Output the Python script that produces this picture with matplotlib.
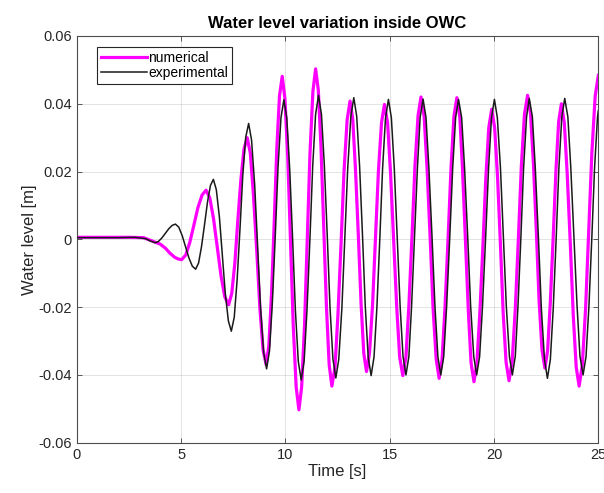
import matplotlib
matplotlib.use('Agg')
import matplotlib.pyplot as plt

plt.rcParams['font.family'] = ['Liberation Sans', 'DejaVu Sans']
plt.rcParams['axes.unicode_minus'] = False

# experimental record (black)
t_exp = [0.0, 2.0, 2.8, 3.3, 3.5, 3.76,
         3.92, 4.08, 4.25, 4.41, 4.57, 4.73,
         4.89, 5.05, 5.22, 5.38, 5.54, 5.70,
         5.84, 5.98, 6.13, 6.27, 6.41, 6.55,
         6.69, 6.84, 6.98, 7.12, 7.27, 7.41,
         7.55, 7.69, 7.83, 7.96, 8.10, 8.24,
         8.38, 8.53, 8.67, 8.81, 8.96, 9.10,
         9.24, 9.38, 9.52, 9.65, 9.79, 9.93,
         10.07, 10.21, 10.35, 10.48, 10.62, 10.76,
         10.90, 11.04, 11.18, 11.31, 11.45, 11.59,
         11.73, 11.87, 12.01, 12.14, 12.28, 12.42,
         12.56, 12.71, 12.85, 12.99, 13.14, 13.28,
         13.42, 13.56, 13.70, 13.83, 13.97, 14.11,
         14.25, 14.39, 14.53, 14.66, 14.80, 14.94,
         15.08, 15.22, 15.36, 15.50, 15.64, 15.78,
         15.92, 16.05, 16.19, 16.33, 16.46, 16.60,
         16.74, 16.88, 17.03, 17.17, 17.31, 17.45,
         17.59, 17.73, 17.88, 18.02, 18.16, 18.30,
         18.45, 18.59, 18.74, 18.88, 19.03, 19.17,
         19.31, 19.45, 19.60, 19.74, 19.88, 20.02,
         20.16, 20.31, 20.45, 20.59, 20.74, 20.88,
         21.02, 21.15, 21.29, 21.42, 21.56, 21.69,
         21.84, 21.98, 22.13, 22.27, 22.42, 22.56,
         22.70, 22.84, 22.98, 23.11, 23.25, 23.39,
         23.54, 23.68, 23.83, 23.98, 24.12, 24.27,
         24.41, 24.55, 24.69, 24.82, 24.96, 25.0]
y_exp = [0.0005, 0.0005, 0.0006, 0.0002, -0.0004, -0.0010,
         -0.0006, 0.0004, 0.0018, 0.0031, 0.0041, 0.0045,
         0.0036, 0.0012, -0.0022, -0.0055, -0.0079, -0.0088,
         -0.0070, -0.0022, 0.0045, 0.0111, 0.0159, 0.0177,
         0.0147, 0.0065, -0.0047, -0.0159, -0.0241, -0.0271,
         -0.0230, -0.0118, 0.0036, 0.0189, 0.0301, 0.0342,
         0.0293, 0.0161, -0.0020, -0.0201, -0.0334, -0.0382,
         -0.0329, -0.0184, 0.0015, 0.0214, 0.0359, 0.0412,
         0.0357, 0.0205, -0.0002, -0.0208, -0.0360, -0.0415,
         -0.0359, -0.0205, 0.0005, 0.0215, 0.0369, 0.0425,
         0.0369, 0.0217, 0.0008, -0.0201, -0.0353, -0.0409,
         -0.0354, -0.0202, 0.0005, 0.0211, 0.0363, 0.0418,
         0.0363, 0.0213, 0.0008, -0.0197, -0.0347, -0.0402,
         -0.0347, -0.0198, 0.0006, 0.0209, 0.0358, 0.0413,
         0.0359, 0.0210, 0.0007, -0.0197, -0.0346, -0.0400,
         -0.0346, -0.0197, 0.0007, 0.0211, 0.0360, 0.0414,
         0.0360, 0.0210, 0.0007, -0.0197, -0.0346, -0.0400,
         -0.0346, -0.0197, 0.0007, 0.0210, 0.0359, 0.0413,
         0.0359, 0.0210, 0.0007, -0.0197, -0.0346, -0.0400,
         -0.0346, -0.0197, 0.0007, 0.0210, 0.0359, 0.0413,
         0.0359, 0.0210, 0.0007, -0.0197, -0.0346, -0.0400,
         -0.0345, -0.0196, 0.0008, 0.0212, 0.0361, 0.0416,
         0.0361, 0.0209, 0.0003, -0.0204, -0.0355, -0.0410,
         -0.0355, -0.0203, 0.0003, 0.0210, 0.0361, 0.0416,
         0.0361, 0.0212, 0.0008, -0.0196, -0.0345, -0.0400,
         -0.0346, -0.0197, 0.0007, 0.0211, 0.0360, 0.0380]

# numerical result (magenta)
t_num = [0.0, 2.5, 3.2, 3.5, 3.76, 4.0, 4.25, 4.47, 4.7, 4.87, 5.03,
         5.23, 5.42, 5.62, 5.81, 6.01, 6.20,
         6.38, 6.56, 6.74, 6.92, 7.10, 7.28,
         7.43, 7.58, 7.72, 7.87, 8.02, 8.17,
         8.32, 8.47, 8.63, 8.78, 8.93, 9.08,
         9.21, 9.34, 9.47, 9.59, 9.72, 9.85,
         9.98, 10.12, 10.25, 10.38, 10.52, 10.65,
         10.78, 10.92, 11.05, 11.18, 11.32, 11.45,
         11.58, 11.71, 11.84, 11.97, 12.10, 12.23,
         12.38, 12.52, 12.67, 12.81, 12.96, 13.10,
         13.23, 13.36, 13.50, 13.63, 13.76, 13.89,
         14.03, 14.18, 14.32, 14.46, 14.61, 14.75,
         14.90, 15.04, 15.19, 15.34, 15.48, 15.63,
         15.78, 15.92, 16.07, 16.21, 16.36, 16.50,
         16.65, 16.79, 16.94, 17.08, 17.23, 17.37,
         17.51, 17.65, 17.80, 17.94, 18.08, 18.22,
         18.36, 18.49, 18.63, 18.77, 18.90, 19.04,
         19.18, 19.32, 19.47, 19.61, 19.75, 19.89,
         20.03, 20.17, 20.31, 20.44, 20.58, 20.72,
         20.87, 21.02, 21.17, 21.31, 21.46, 21.61,
         21.75, 21.89, 22.03, 22.16, 22.30, 22.44,
         22.57, 22.70, 22.84, 22.97, 23.10, 23.23,
         23.37, 23.51, 23.66, 23.80, 23.94, 24.08,
         24.23, 24.39, 24.54, 24.69, 24.85, 25.0]
y_num = [0.0006, 0.0006, 0.0005, -0.0002, -0.0008, -0.0014, -0.0026, -0.0041, -0.0053, -0.0058, -0.0060,
         -0.0046, -0.0009, 0.0043, 0.0094, 0.0131, 0.0145,
         0.0122, 0.0060, -0.0024, -0.0109, -0.0170, -0.0193,
         -0.0160, -0.0070, 0.0054, 0.0177, 0.0267, 0.0300,
         0.0255, 0.0132, -0.0035, -0.0203, -0.0325, -0.0370,
         -0.0313, -0.0157, 0.0056, 0.0268, 0.0424, 0.0481,
         0.0415, 0.0235, -0.0011, -0.0257, -0.0437, -0.0503,
         -0.0436, -0.0252, 0.0000, 0.0252, 0.0436, 0.0503,
         0.0440, 0.0269, 0.0035, -0.0199, -0.0370, -0.0433,
         -0.0377, -0.0223, -0.0012, 0.0198, 0.0352, 0.0408,
         0.0355, 0.0208, 0.0009, -0.0191, -0.0337, -0.0390,
         -0.0337, -0.0193, 0.0004, 0.0201, 0.0345, 0.0398,
         0.0344, 0.0198, -0.0002, -0.0202, -0.0348, -0.0402,
         -0.0347, -0.0196, 0.0009, 0.0215, 0.0365, 0.0420,
         0.0364, 0.0212, 0.0005, -0.0203, -0.0354, -0.0410,
         -0.0355, -0.0203, 0.0004, 0.0211, 0.0363, 0.0418,
         0.0362, 0.0209, -0.0001, -0.0211, -0.0364, -0.0420,
         -0.0366, -0.0219, -0.0018, 0.0183, 0.0330, 0.0384,
         0.0330, 0.0184, -0.0017, -0.0217, -0.0363, -0.0417,
         -0.0361, -0.0206, 0.0004, 0.0215, 0.0369, 0.0425,
         0.0371, 0.0224, 0.0023, -0.0179, -0.0326, -0.0380,
         -0.0328, -0.0185, 0.0010, 0.0205, 0.0348, 0.0400,
         0.0344, 0.0192, -0.0017, -0.0225, -0.0377, -0.0433,
         -0.0372, -0.0204, 0.0026, 0.0255, 0.0423, 0.0484]

xticks = [0, 5, 10, 15, 20, 25]
yticks = [-0.06, -0.04, -0.02, 0, 0.02, 0.04, 0.06]
ytick_labels = ['-0.06', '-0.04', '-0.02', '0', '0.02', '0.04', '0.06']

fig = plt.figure(figsize=(6.04, 4.93), dpi=100)
ax = fig.add_axes([0.127, 0.102, 0.8636, 0.825])

ax.plot(t_num, y_num, color='#ff00ff', lw=2.3, label='numerical', zorder=2)
ax.plot(t_exp, y_exp, color='#1a1a1a', lw=1.1, label='experimental', zorder=3)

ax.set_xlim(0, 25)
ax.set_ylim(-0.06, 0.06)
ax.set_xticks(xticks)
ax.set_xticklabels([str(v) for v in xticks])
ax.set_yticks(yticks)
ax.set_yticklabels(ytick_labels)

ax.grid(True, color='0.15', alpha=0.15, lw=0.6)
ax.tick_params(direction='in', length=3.5, width=0.6, colors='0.25',
               labelsize=10.5, top=True, right=True, labelcolor='0.15')
for s in ax.spines.values():
    s.set_color('0.3')
    s.set_linewidth(0.8)

ax.set_xlabel('Time [s]', fontsize=12, color='0.15', labelpad=2)
ax.set_ylabel('Water level [m]', fontsize=12, color='0.15', labelpad=1)
ax.set_title('Water level variation inside OWC', fontsize=12, fontweight='bold', pad=6)

leg = ax.legend(loc='upper left', bbox_to_anchor=(0.038, 0.974), borderaxespad=0,
                fontsize=10, handlelength=3.3, handletextpad=0.1, borderpad=0.3,
                labelspacing=0.1, fancybox=False, framealpha=1)
leg.get_frame().set_edgecolor('0.15')
leg.get_frame().set_linewidth(0.8)

fig.savefig('out.png', dpi=100)
